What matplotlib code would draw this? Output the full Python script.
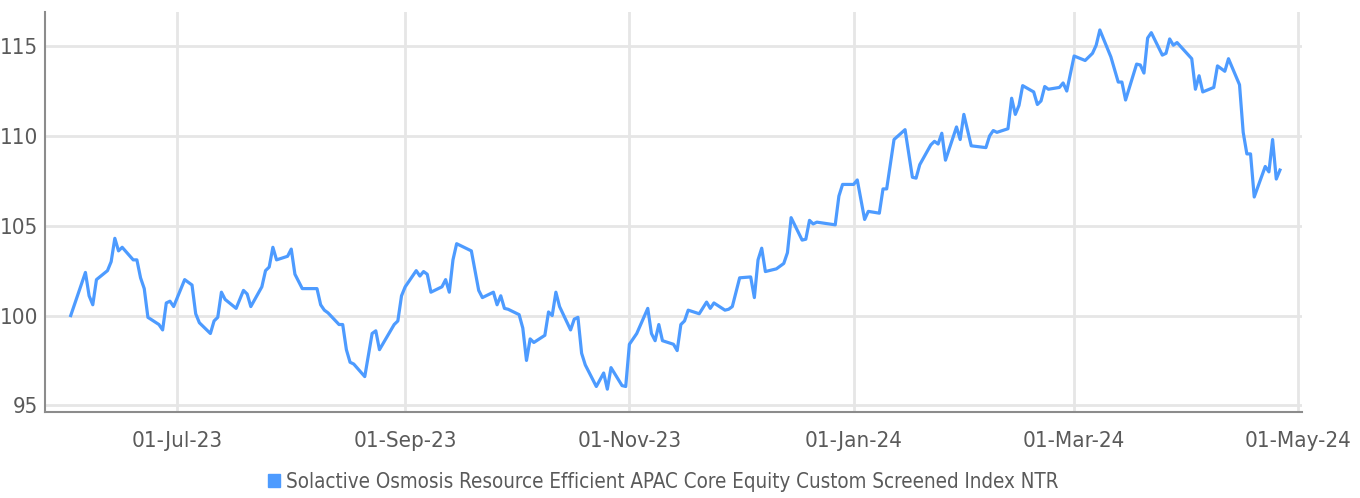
import numpy as np
import pandas as pd
import matplotlib
matplotlib.use("Agg")
import matplotlib.pyplot as plt
import matplotlib.dates as mdates
from matplotlib import font_manager
from matplotlib.patches import Patch

# font: condensed look if we have one
names = {f.name for f in font_manager.fontManager.ttflist}
if "Liberation Sans Narrow" in names:
    plt.rcParams['font.family'] = ['Liberation Sans Narrow', 'DejaVu Sans']
else:
    plt.rcParams['font.family'] = ['DejaVu Sans']
    plt.rcParams['font.stretch'] = 'condensed'

series_name = "Solactive Osmosis Resource Efficient APAC Core Equity Custom Screened Index NTR"

dates = [
    "2023-06-02", "2023-06-06", "2023-06-07", "2023-06-08", "2023-06-09", "2023-06-12", "2023-06-13",
    "2023-06-14", "2023-06-15", "2023-06-16", "2023-06-19", "2023-06-20", "2023-06-21", "2023-06-22",
    "2023-06-23", "2023-06-26", "2023-06-27", "2023-06-28", "2023-06-29", "2023-06-30", "2023-07-03",
    "2023-07-05", "2023-07-06", "2023-07-07", "2023-07-10", "2023-07-11", "2023-07-12", "2023-07-13",
    "2023-07-14", "2023-07-17", "2023-07-19", "2023-07-20", "2023-07-21", "2023-07-24", "2023-07-25",
    "2023-07-26", "2023-07-27", "2023-07-28", "2023-07-31", "2023-08-01", "2023-08-02", "2023-08-04",
    "2023-08-08", "2023-08-09", "2023-08-10", "2023-08-11", "2023-08-14", "2023-08-15", "2023-08-16",
    "2023-08-17", "2023-08-18", "2023-08-21", "2023-08-23", "2023-08-24", "2023-08-25", "2023-08-29",
    "2023-08-30", "2023-08-31", "2023-09-01", "2023-09-04", "2023-09-05", "2023-09-06", "2023-09-07",
    "2023-09-08", "2023-09-11", "2023-09-12", "2023-09-13", "2023-09-14", "2023-09-15", "2023-09-19",
    "2023-09-21", "2023-09-22", "2023-09-25", "2023-09-26", "2023-09-27", "2023-09-28", "2023-09-29",
    "2023-10-02", "2023-10-03", "2023-10-04", "2023-10-05", "2023-10-06", "2023-10-09", "2023-10-10",
    "2023-10-11", "2023-10-12", "2023-10-13", "2023-10-16", "2023-10-17", "2023-10-18", "2023-10-19",
    "2023-10-20", "2023-10-23", "2023-10-25", "2023-10-26", "2023-10-27", "2023-10-30", "2023-10-31",
    "2023-11-01", "2023-11-03", "2023-11-06", "2023-11-07", "2023-11-08", "2023-11-09", "2023-11-10",
    "2023-11-13", "2023-11-14", "2023-11-15", "2023-11-16", "2023-11-17", "2023-11-20", "2023-11-22",
    "2023-11-23", "2023-11-24", "2023-11-27", "2023-11-28", "2023-11-29", "2023-12-01", "2023-12-04",
    "2023-12-05", "2023-12-06", "2023-12-07", "2023-12-08", "2023-12-11", "2023-12-13", "2023-12-14",
    "2023-12-15", "2023-12-18", "2023-12-19", "2023-12-20", "2023-12-21", "2023-12-22", "2023-12-27",
    "2023-12-28", "2023-12-29", "2024-01-01", "2024-01-02", "2024-01-04", "2024-01-05", "2024-01-08",
    "2024-01-09", "2024-01-10", "2024-01-12", "2024-01-15", "2024-01-17", "2024-01-18", "2024-01-19",
    "2024-01-22", "2024-01-23", "2024-01-24", "2024-01-25", "2024-01-26", "2024-01-29", "2024-01-30",
    "2024-01-31", "2024-02-02", "2024-02-06", "2024-02-07", "2024-02-08", "2024-02-09", "2024-02-12",
    "2024-02-13", "2024-02-14", "2024-02-15", "2024-02-16", "2024-02-19", "2024-02-20", "2024-02-21",
    "2024-02-22", "2024-02-23", "2024-02-26", "2024-02-27", "2024-02-28", "2024-03-01", "2024-03-04",
    "2024-03-06", "2024-03-07", "2024-03-08", "2024-03-11", "2024-03-13", "2024-03-14", "2024-03-15",
    "2024-03-18", "2024-03-19", "2024-03-20", "2024-03-21", "2024-03-22", "2024-03-25", "2024-03-26",
    "2024-03-27", "2024-03-28", "2024-03-29", "2024-04-02", "2024-04-03", "2024-04-04", "2024-04-05",
    "2024-04-08", "2024-04-09", "2024-04-11", "2024-04-12", "2024-04-15", "2024-04-16", "2024-04-17",
    "2024-04-18", "2024-04-19", "2024-04-22", "2024-04-23", "2024-04-24", "2024-04-25", "2024-04-26",
]

values = [
    100.0, 102.4, 101.1, 100.6, 102.0, 102.5, 103.0,
    104.3, 103.6, 103.8, 103.1, 103.1, 102.1, 101.5,
    99.9, 99.5, 99.2, 100.7, 100.8, 100.5, 102.0,
    101.7, 100.1, 99.6, 99.0, 99.7, 99.9, 101.3,
    100.9, 100.4, 101.4, 101.2, 100.5, 101.6, 102.5,
    102.7, 103.8, 103.1, 103.3, 103.7, 102.3, 101.5,
    101.5, 100.6, 100.3, 100.15, 99.5, 99.5, 98.1,
    97.4, 97.3, 96.6, 99.0, 99.15, 98.1, 99.5,
    99.7, 101.1, 101.6, 102.5, 102.2, 102.45, 102.3,
    101.3, 101.6, 102.0, 101.3, 103.1, 104.0, 103.6,
    101.4, 101.0, 101.3, 100.6, 101.1, 100.4, 100.35,
    100.05, 99.3, 97.5, 98.7, 98.5, 98.9, 100.2,
    100.0, 101.3, 100.5, 99.2, 99.8, 99.9, 97.9,
    97.25, 96.05, 96.8, 95.9, 97.1, 96.1, 96.05,
    98.4, 99.0, 100.4, 99.0, 98.6, 99.5, 98.6,
    98.4, 98.05, 99.5, 99.7, 100.3, 100.1, 100.75,
    100.4, 100.7, 100.3, 100.35, 100.5, 102.1, 102.15,
    101.0, 103.1, 103.75, 102.45, 102.6, 102.9, 103.5,
    105.45, 104.2, 104.25, 105.3, 105.1, 105.2, 105.05,
    106.65, 107.3, 107.3, 107.55, 105.35, 105.8, 105.7,
    107.05, 107.05, 109.8, 110.35, 107.7, 107.65, 108.4,
    109.5, 109.7, 109.55, 110.15, 108.65, 110.5, 109.8,
    111.2, 109.45, 109.35, 110.0, 110.3, 110.2, 110.4,
    112.1, 111.2, 111.7, 112.8, 112.45, 111.75, 111.95,
    112.75, 112.6, 112.7, 112.95, 112.5, 114.45, 114.2,
    114.6, 115.05, 115.9, 114.4, 113.0, 113.0, 112.0,
    114.0, 113.95, 113.5, 115.45, 115.75, 114.5, 114.6,
    115.4, 115.05, 115.2, 114.3, 112.6, 113.35, 112.45,
    112.7, 113.9, 113.6, 114.3, 112.85, 110.2, 109.0,
    109.0, 106.6, 108.3, 108.0, 109.8, 107.6, 108.1,
]

x_ticks = ["2023-07-01", "2023-09-01", "2023-11-01", "2024-01-01", "2024-03-01", "2024-05-01"]
y_ticks = [95, 100, 105, 110, 115]

x = pd.to_datetime(dates)

fig = plt.figure(figsize=(13.6, 4.98), dpi=100)
ax = fig.add_axes([45/1360, 1 - 412/498, (1302-45)/1360, (412-12)/498])

line_col = "#4d9bff"
ax.plot(x, values, color=line_col, lw=2.3, zorder=3)

ax.set_xlim(pd.Timestamp("2023-05-26"), pd.Timestamp("2024-05-02"))
ax.set_ylim(94.63, 116.9)

ax.set_xticks(pd.to_datetime(x_ticks))
ax.xaxis.set_major_formatter(mdates.DateFormatter("%d-%b-%y"))
ax.set_yticks(y_ticks)

ax.grid(True, color="#e6e6e6", lw=2)
ax.set_axisbelow(True)
for s in ["top", "right"]:
    ax.spines[s].set_visible(False)
for s in ["left", "bottom"]:
    ax.spines[s].set_color("#8c8c8c")
    ax.spines[s].set_linewidth(1.5)

ax.tick_params(axis="both", length=0, labelsize=16, labelcolor="#5a5a5a")
ax.tick_params(axis="x", pad=14)
ax.tick_params(axis="y", pad=5)

# legend with a small square handle
ax.legend(handles=[Patch(color=line_col, label=series_name)], loc="center",
          bbox_to_anchor=(0.4917, -0.175), frameon=False, fontsize=14.8,
          handlelength=0.6, handleheight=0.6, handletextpad=0.3, labelcolor="#5a5a5a")

fig.savefig("out.png", dpi=100)
